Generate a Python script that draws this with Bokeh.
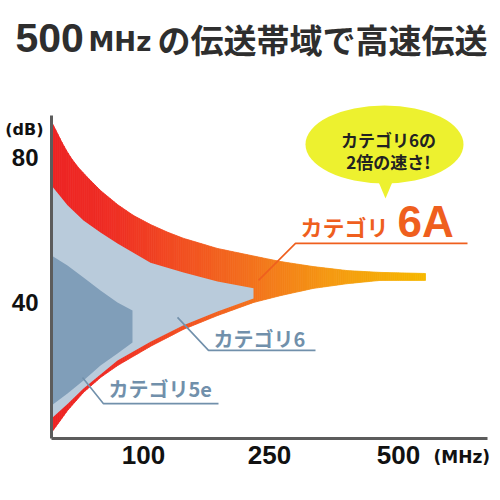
import numpy as np
from bokeh.plotting import figure
from bokeh.models import Range1d, FixedTicker, Label, ColumnDataSource
from bokeh.embed import file_html
from bokeh.resources import INLINE

# ---------------- data (x = schematic axis position, y = dB) ----------------
tick_pos = [92, 218, 347]
tick_labels = ["100", "250", "500"]
y_ticks = [40, 80]

# Category 6A band (outer)
cat6a_top_x = [0, 5, 10, 15, 20, 27, 36, 49, 66, 82, 99, 116, 132, 166, 199, 229, 262, 296, 329, 374]
cat6a_top_y = [89.9, 87.2, 84.4, 81.9, 79.7, 77.2, 74.5, 70.9, 67.0, 64.0, 61.5, 59.4, 57.7,
               54.9, 53.0, 51.3, 49.9, 48.8, 48.3, 48.0]
cat6a_bot_x = [0, 16, 32, 49, 66, 99, 132, 166, 202, 229, 262, 296, 329, 374]
cat6a_bot_y = [4.1, 10.2, 15.2, 19.3, 22.6, 27.9, 32.6, 36.4, 40.0, 41.9, 43.9, 45.2, 46.1, 46.1]

# Category 6 band
cat6_top_x = [0, 16, 32, 49, 66, 99, 132, 166, 202]
cat6_top_y = [72.3, 66.8, 62.6, 59.3, 56.3, 51.0, 48.3, 45.8, 43.9]
cat6_bot_x = [0, 16, 32, 66, 99, 132, 166, 202]
cat6_bot_y = [8.0, 12.0, 16.3, 24.0, 29.2, 33.7, 37.5, 41.1]

# Category 5e band
cat5e_top_x = [0, 16, 32, 49, 66, 81]
cat5e_top_y = [53.0, 50.2, 46.9, 43.3, 40.0, 37.8]
cat5e_bot_x = [0, 16, 32, 49, 66, 81]
cat5e_bot_y = [11.6, 14.9, 18.5, 22.6, 25.9, 29.0]

# gradient stops for the 6A band
grad_pos = [0, 60, 120, 200, 280, 374]
grad_col = ["#ed2424", "#ef2e24", "#f14a22", "#f3721d", "#f59a12", "#f6b800"]

# ---------------- figure ----------------
W = H = 496
p = figure(width=W, height=H, output_backend="svg", toolbar_location=None,
           x_range=Range1d(-51, W - 51), y_range=Range1d((447 - H) / 3.625, 447 / 3.625),
           min_border_left=0, min_border_right=0, min_border_top=0, min_border_bottom=0)
p.outline_line_color = None
p.xgrid.visible = False
p.ygrid.visible = False
p.background_fill_color = "white"
p.border_fill_color = "white"

for ax in (p.xaxis[0], p.yaxis[0]):
    ax.axis_line_width = 3
    ax.axis_line_color = "#5c5c5c"
    ax.major_tick_line_color = None
    ax.minor_tick_line_color = None
    ax.major_label_text_font = "Liberation Sans"
    ax.major_label_text_font_style = "bold"
    ax.major_label_text_color = "#111111"

p.xaxis[0].ticker = FixedTicker(ticks=tick_pos)
p.xaxis[0].major_label_overrides = {t: l for t, l in zip(tick_pos, tick_labels)}
p.xaxis[0].major_label_text_font_size = "26px"
p.xaxis[0].major_label_standoff = 2
p.xaxis[0].bounds = (0, 436)
p.xaxis[0].fixed_location = 2.5

p.yaxis[0].ticker = FixedTicker(ticks=y_ticks)
p.yaxis[0].major_label_text_font_size = "24px"
p.yaxis[0].major_label_standoff = 7
p.yaxis[0].bounds = (2.5, 91.6)
p.yaxis[0].fixed_location = 0


def hex2rgb(h):
    return np.array([int(h[i:i + 2], 16) for i in (1, 3, 5)], dtype=float)


stops_rgb = np.array([hex2rgb(c) for c in grad_col])


def grad(x):
    r = [np.interp(x, grad_pos, stops_rgb[:, k]) for k in range(3)]
    return "#%02x%02x%02x" % tuple(int(round(v)) for v in r)


# 6A band as thin vertical slices of the same polygon (for the colour gradient)
edges = np.linspace(cat6a_top_x[0], cat6a_top_x[-1], 181)
top = np.interp(edges, cat6a_top_x, cat6a_top_y)
bot = np.interp(edges, cat6a_bot_x, cat6a_bot_y)
xs, ys, cols = [], [], []
for i in range(len(edges) - 1):
    x0, x1 = edges[i], edges[i + 1]
    xs.append([x0, x1, x1, x0])
    ys.append([bot[i], bot[i + 1], top[i + 1], top[i]])
    cols.append(grad(0.5 * (x0 + x1)))
src = ColumnDataSource(dict(xs=xs, ys=ys, c=cols))
p.patches("xs", "ys", source=src, fill_color="c", line_color="c", line_width=0.8)

# Category 6
p.patch(cat6_top_x + cat6_bot_x[::-1], cat6_top_y + cat6_bot_y[::-1],
        fill_color="#b9cbdb", line_color=None)
# Category 5e
p.patch(cat5e_top_x + cat5e_bot_x[::-1], cat5e_top_y + cat5e_bot_y[::-1],
        fill_color="#809eb9", line_color=None)

# leader lines
orange = "#ef5f1e"
slate = "#7190ab"
p.line([207, 244, 416], [46.1, 56.3, 56.3], line_color=orange, line_width=1.6)
p.line([126, 157, 264], [35.9, 26.8, 26.8], line_color=slate, line_width=1.6)
p.line([31, 52, 167], [19.3, 12.1, 12.1], line_color=slate, line_width=1.6)

# speech bubble
bubble = "#edf12f"
p.ellipse(x=[333], y=[83.6], width=[158], height=[78 / 3.625], fill_color=bubble, line_color=None)
p.patch([326, 342, 334], [73.9, 73.9, 68.7], fill_color=bubble, line_color=None)

jp = "Noto Sans CJK JP"


def lab(x, y, t, font, size, color, align="left", base="middle", style="bold"):
    p.add_layout(Label(x=x, y=y, text=t, text_font=font, text_font_size=size,
                       text_color=color, text_align=align, text_baseline=base,
                       text_font_style=style))


lab(337, 85.0, "カテゴリ6の", jp, "17px", "#222222", align="center")
lab(337, 78.9, "2倍の速さ!", jp, "17px", "#222222", align="center")

lab(249, 61.2, "カテゴリ", jp, "22px", orange)
lab(346, 62.3, "6A", "Liberation Sans", "44px", orange)
lab(162, 30.1, "カテゴリ6", jp, "20px", slate)
lab(57, 16.3, "カテゴリ5e", jp, "20px", slate)

# title
lab(-36, 113.1, "500", "Liberation Sans", "41px", "#2e2e2e")
lab(37, 112.0, "MHz", "DejaVu Sans", "26px", "#2e2e2e")
lab(106, 112.8, "の伝送帯域で高速伝送", jp, "33px", "#2e2e2e")

# unit labels
lab(-8, 87.7, "(dB)", "DejaVu Sans", "16px", "#111111", align="right")
lab(382, -2.5, "(MHz)", "DejaVu Sans", "17px", "#111111")

open("out.html", "w").write(file_html(p, INLINE))
